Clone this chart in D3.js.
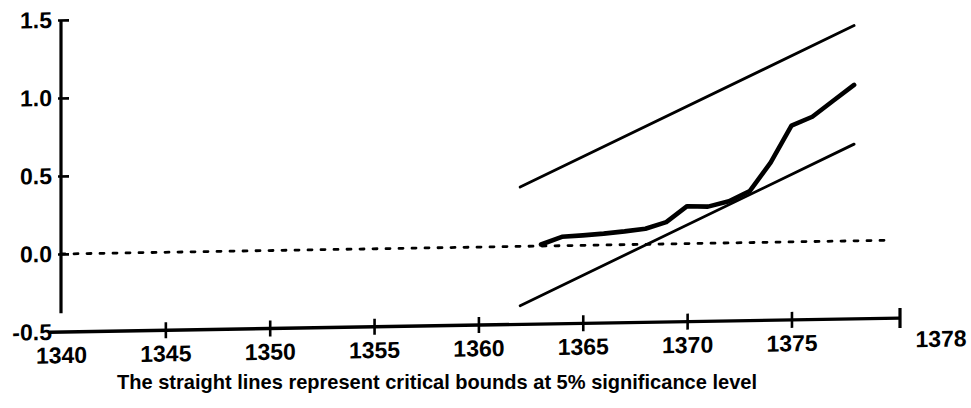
<!DOCTYPE html>
<html>
<head>
<meta charset="utf-8">
<script src="https://cdn.jsdelivr.net/npm/d3@7"></script>
<style>
  html, body { margin: 0; padding: 0; background: #fff; }
  svg { display: block; }
  text { font-family: "Liberation Sans", Arial, sans-serif; fill: #000; }
</style>
</head>
<body>
<svg id="chart" width="971" height="408"></svg>
<script>
// ---- data ----
const years = [1363, 1364, 1365, 1366, 1367, 1368, 1369, 1370, 1371, 1372, 1373, 1374, 1375, 1376, 1377, 1378];
const cusumsq = [0.01, 0.057, 0.064, 0.073, 0.085, 0.10, 0.14, 0.24, 0.235, 0.267, 0.33, 0.51, 0.745, 0.80, 0.90, 1.0];
const boundYears = [1362, 1378];
const upperBound = [0.38, 1.38];
const lowerBound = [-0.38, 0.62];
const zeroYears = [1340, 1379.8];
const zeroValues = [0, 0];
const xTickValues = [1340, 1345, 1350, 1355, 1360, 1365, 1370, 1375];
const xEndLabel = "1378";
const yTickValues = [-0.5, 0.0, 0.5, 1.0, 1.5];
const yTickLabels = ["-0.5", "0.0", "0.5", "1.0", "1.5"];
const caption = "The straight lines represent critical bounds at 5% significance level";

// ---- layout ----
const svg = d3.select("#chart");
const x = d3.scaleLinear().domain([1340, 1380.2]).range([61, 900]);
const y = d3.scaleLinear().domain([-0.5, 1.5]).range([332, 20]);

// slight scan skew
const g = svg.append("g")
  .attr("transform", "translate(61,0) skewY(-0.95) translate(-61,0)");

const line = d3.line().x(d => x(d[0])).y(d => y(d[1]));

// zero dashed line
g.append("path")
  .datum(zeroYears.map((yr, i) => [yr, zeroValues[i]]))
  .attr("d", line)
  .attr("fill", "none").attr("stroke", "#000")
  .attr("stroke-width", 2.8).attr("stroke-dasharray", "4,9")
  .attr("stroke-linecap", "round");

// bounds
[upperBound, lowerBound].forEach(b => {
  g.append("path")
    .datum(boundYears.map((yr, i) => [yr, b[i]]))
    .attr("d", line)
    .attr("fill", "none").attr("stroke", "#000")
    .attr("stroke-width", 2.8).attr("stroke-linecap", "round");
});

// CUSUMSQ
g.append("path")
  .datum(years.map((yr, i) => [yr, cusumsq[i]]))
  .attr("d", line)
  .attr("fill", "none").attr("stroke", "#000")
  .attr("stroke-width", 4.6).attr("stroke-linejoin", "round").attr("stroke-linecap", "round");

// y axis
const yAxis = d3.axisLeft(y)
  .tickValues(yTickValues)
  .tickFormat((d, i) => yTickLabels[i])
  .tickSize(-8)
  .tickPadding(9);
const yg = g.append("g").attr("transform", `translate(${x(1340)},0)`).call(yAxis);
yg.select(".domain").remove();
yg.selectAll(".tick line").attr("stroke", "#000").attr("stroke-width", 2.6).attr("x1", -3);
yg.selectAll(".tick").filter(d => d === -0.5).select("line").remove();
yg.selectAll("text").attr("font-size", 23).attr("font-weight", "bold").attr("fill", "#000");
yg.append("line")
  .attr("x1", 0).attr("x2", 0)
  .attr("y1", y(1.5)).attr("y2", y(-0.38))
  .attr("stroke", "#000").attr("stroke-width", 3.2);

// x axis
const xAxis = d3.axisBottom(x)
  .tickValues(xTickValues)
  .tickFormat(d3.format("d"))
  .tickSize(8)
  .tickPadding(7);
const xg = g.append("g").attr("transform", `translate(0,${y(-0.5)})`).call(xAxis);
xg.select(".domain").remove();
xg.append("line")
  .attr("x1", x(1339.45)).attr("x2", x(1380.2))
  .attr("y1", 0).attr("y2", 0)
  .attr("stroke", "#000").attr("stroke-width", 3.4);
xg.selectAll(".tick line").attr("y1", -8).attr("y2", 8)
  .attr("stroke", "#000").attr("stroke-width", 2.6);
xg.selectAll(".tick").filter(d => d === 1340).select("line").remove();
xg.selectAll(".tick text").attr("font-size", 23).attr("font-weight", "bold").attr("fill", "#000");
// end tick with its label
xg.append("line")
  .attr("x1", x(1380.2)).attr("x2", x(1380.2))
  .attr("y1", -10).attr("y2", 10)
  .attr("stroke", "#000").attr("stroke-width", 3.2);
xg.append("text")
  .attr("x", x(1380.2) + 41).attr("y", 13).attr("dy", "0.71em")
  .attr("text-anchor", "middle")
  .attr("font-size", 23).attr("font-weight", "bold")
  .text(xEndLabel);

// caption
svg.append("text")
  .attr("x", 117).attr("y", 389)
  .attr("text-anchor", "start")
  .attr("font-size", 21).attr("font-weight", "bold")
  .attr("textLength", 640).attr("lengthAdjust", "spacingAndGlyphs")
  .text(caption);
</script>
</body>
</html>
